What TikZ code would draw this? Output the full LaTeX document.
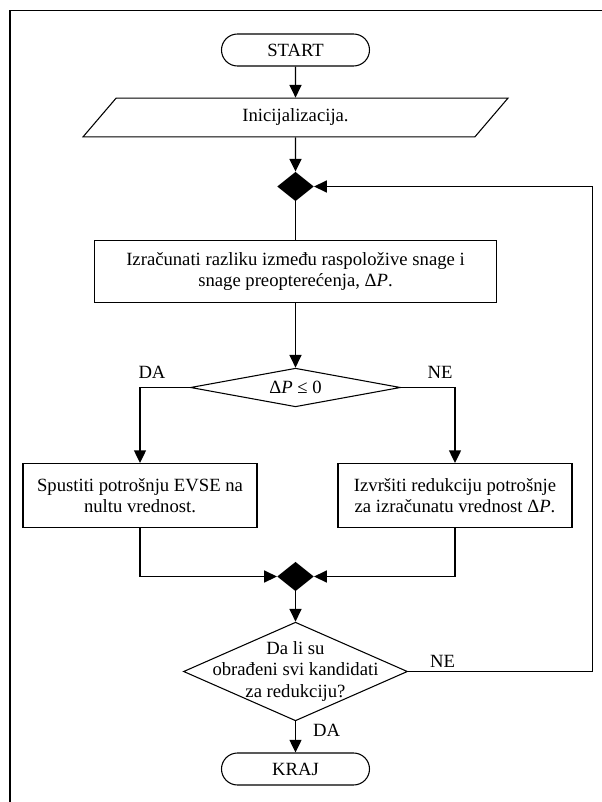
\documentclass[tikz,border=0pt]{standalone}
\usepackage{fontspec}
\setmainfont{Liberation Serif}
\usetikzlibrary{shapes.geometric,arrows.meta}

\tikzset{
	term/.style={draw, line width=0.8pt, rounded corners=12pt, minimum width=111pt, minimum height=24pt, inner sep=0pt},
	io/.style={draw, line width=0.8pt, trapezium, trapezium left angle=60, trapezium right angle=120, trapezium stretches, minimum width=319pt, minimum height=29pt, inner sep=0pt},
	proc/.style={draw, line width=0.8pt, rectangle, align=center, inner sep=0pt},
	dec/.style={draw, line width=0.8pt, diamond, inner sep=0pt},
	mergept/.style={fill=black, diamond, inner sep=0pt, minimum width=27.5pt, minimum height=22pt},
	flow/.style={line width=1.1pt, -{Triangle[length=9.5pt,width=9pt]}},
	wire/.style={line width=1.1pt}
}

\begin{document}
\begin{tikzpicture}[x=0.75pt,y=-0.75pt,font=\fontsize{14}{16.2}\selectfont]
			\useasboundingbox (0,0) rectangle (601,802);
			% frame (cut at the right and bottom)
			\draw[line width=1pt] (610,10.7) -- (10,10.7) -- (10,810);

			% main column
			\node[term] (start) at (295.5,50) {START};
			\node[io] (init) at (295.5,117.5) {Inicijalizacija.};
			\node[mergept] (j1) at (295.5,186.5) {};
			\node[proc, minimum width=301.5pt, minimum height=47pt] (calc) at (295.5,271.5)
				{Izračunati razliku između raspoložive snage i\\snage preopterećenja, Δ\textit{P}.};
			\node[dec, minimum width=157.5pt, minimum height=29pt,
				label={center:Δ\textit{P} ≤ 0}] (dp) at (295.5,387.5) {};
			\node (dpda) at (152,372) {DA};
			\node (dpne) at (440,372) {NE};

			% the two branches
			\node[proc, minimum width=175.5pt, minimum height=48pt] (zero) at (140,495.5)
				{Spustiti potrošnju EVSE na\\nultu vrednost.};
			\node[proc, minimum width=175.5pt, minimum height=48pt] (red) at (455,495.5)
				{Izvršiti redukciju potrošnje\\za izračunatu vrednost Δ\textit{P}.};
			\node[mergept] (j2) at (295.5,576.5) {};

			% end check
			\node[dec, minimum width=168pt, minimum height=74pt,
				label={[align=center]center:Da li su\\obrađeni svi kandidati\\za redukciju?}] (all) at (295.5,671.5) {};
			\node (allne) at (442.5,661.5) {NE};
			\node (allda) at (326.5,730) {DA};
			\node[term] (kraj) at (295.5,769) {KRAJ};
			\coordinate (back) at (592.5,671.5);

			\draw[flow] (start) -- (init);
			\draw[flow] (init) -- (j1);
			\draw[wire] (j1) -- (calc);
			\draw[flow] (calc) -- (dp);
			\draw[flow] (dp.west) -| (zero.north);
			\draw[flow] (dp.east) -| (red.north);
			\draw[flow] (zero.south) |- (j2.west);
			\draw[flow] (red.south) |- (j2.east);
			\draw[flow] (j2) -- (all);
			\draw[flow] (all) -- (kraj);
			\draw[flow] (all.east) -- (back) |- (j1.east);
		\end{tikzpicture}
\end{document}
